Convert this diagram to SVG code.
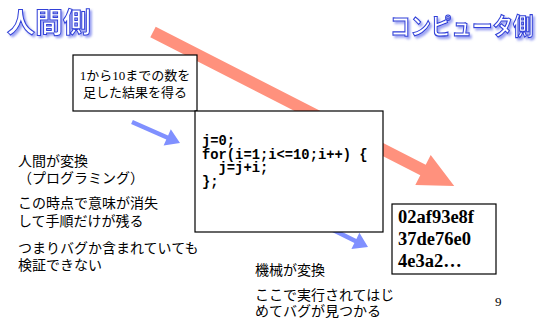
<svg xmlns="http://www.w3.org/2000/svg" width="542" height="322" viewBox="0 0 542 322">
<defs>
<filter id="shadow" x="-10%" y="-20%" width="120%" height="150%">
<feDropShadow dx="2" dy="2" stdDeviation="0.8" flood-color="#9098F0" flood-opacity="0.9"/>
</filter>
</defs>
<style>
.title{font-family:"Noto Sans CJK JP","Noto Sans",sans-serif;font-weight:bold;fill:#ffffff;stroke:#3040D8;stroke-width:1;filter:url(#shadow);}
.box{fill:#ffffff;stroke:#000000;stroke-width:1.2;}
.jp{font-family:"Liberation Sans","Noto Sans CJK JP",sans-serif;font-size:14px;fill:#000000;}
.note{font-family:"Liberation Serif","Noto Sans CJK JP",serif;font-size:13px;fill:#000000;}
.code{font-family:"Liberation Mono",monospace;font-size:13.8px;font-weight:bold;fill:#000000;white-space:pre;}
.hex{font-family:"Liberation Serif",serif;font-size:18.5px;font-weight:bold;fill:#000000;}
.big{fill:#FF917D;}
.small{fill:#8090FF;}
</style>
<g id="titles">
<text class="title" x="7" y="33" font-size="28">人間側</text>
<text class="title" transform="translate(390,35) scale(1,1.15)" x="0" y="0" font-size="20.5">コンピュータ側</text>
</g>
<g id="connectors">
<polygon class="big" points="155.7,26.7 425.7,164.7 430.7,154.9 454.2,185.9 415.3,185.1 420.3,175.3 150.3,37.3"/>
<polygon class="small" points="132.9,120 168.1,135.4 170.8,129.2 180,143 163.6,145.6 166.3,139.4 131.1,124"/>
<polygon class="small" points="324,223 356.4,238.9 359.4,232.8 368,247 351.4,249 354.4,242.9 322,227"/>
</g>
<g id="goal">
<rect class="box" x="73" y="55" width="124" height="56"/>
<text class="note" x="135" y="80" text-anchor="middle">1から10までの数を</text>
<text class="note" x="135" y="97" text-anchor="middle">足した結果を得る</text>
</g>
<g id="program">
<rect class="box" x="195" y="111" width="188" height="121"/>
<text class="code" x="202" y="145">j=0;</text>
<text class="code" x="202" y="158.5">for(i=1;i&lt;=10;i++) {</text>
<text class="code" x="202" y="172">  j=j+i;</text>
<text class="code" x="202" y="185.5">};</text>
</g>
<g id="machine">
<rect class="box" x="392" y="204" width="104" height="70"/>
<text class="hex" x="398" y="223">02af93e8f</text>
<text class="hex" x="398" y="245">37de76e0</text>
<text class="hex" x="398" y="267">4e3a2…</text>
</g>
<g id="left-notes">
<text class="jp" x="18" y="166">人間が変換</text>
<text class="jp" x="18" y="183">（プログラミング）</text>
<text class="jp" x="18" y="208">この時点で意味が消失</text>
<text class="jp" x="18" y="226">して手順だけが残る</text>
<text class="jp" x="18" y="253">つまりバグか含まれていても</text>
<text class="jp" x="18" y="270">検証できない</text>
</g>
<g id="right-notes">
<text class="jp" x="255" y="275">機械が変換</text>
<text class="jp" x="255" y="300">ここで実行されてはじ</text>
<text class="jp" x="255" y="316">めてバグが見つかる</text>
<text class="note" x="495" y="306" font-size="10">9</text>
</g>
</svg>
